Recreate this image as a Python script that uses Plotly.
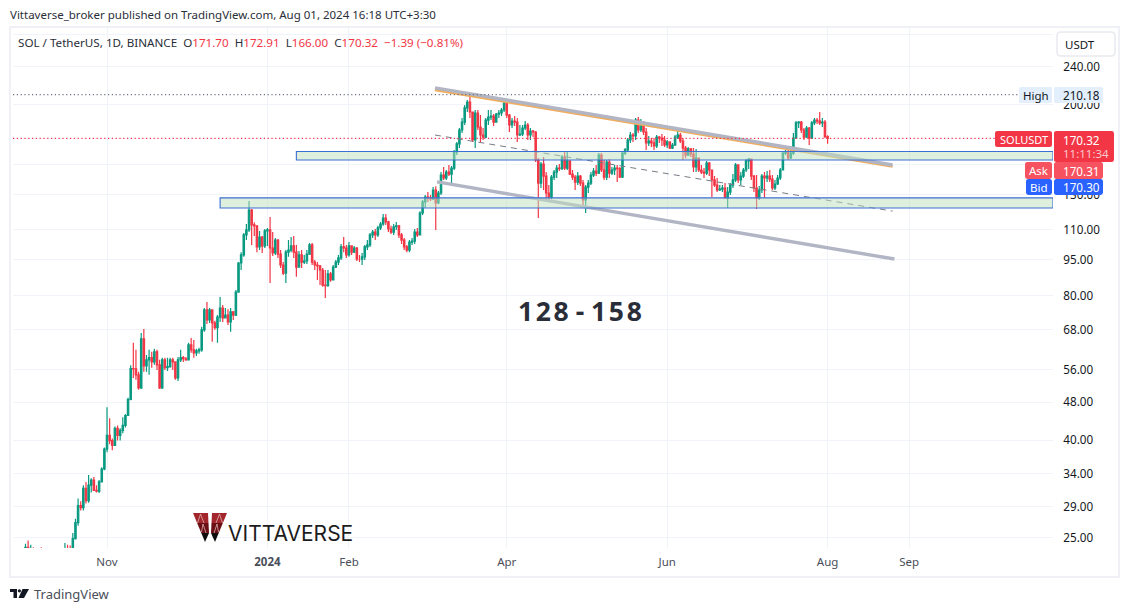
import pandas as pd
import plotly.graph_objects as go

closes = [
 23.9,23.4,23.6,23.1,22.5,23.3,23.2,23.3,21.8,22.0,
 21.6,21.2,21.4,21.6,22.0,23.6,23.5,23.4,24.9,26.9,
 29.2,28.9,31.7,29.9,32.2,33.0,31.4,31.3,32.7,34.8,
 38.3,40.9,39.9,39.0,42.3,40.9,41.9,42.9,45.0,48.6,
 56.4,
 56.3,54.7,51.4,65.0,57.1,58.8,59.4,58.2,61.1,57.4,
 51.4,58.8,56.6,56.9,58.8,58.2,53.9,58.8,59.4,59.1,
 58.8,63.2,61.7,60.8,61.4,61.7,67.9,74.7,71.2,74.7,
 70.2,68.6,72.2,75.4,71.9,72.9,70.5,74.0,72.9,81.4,
 93.6,97.3,107.1,109.7,120.7,112.4,111.9,101.1,106.0,101.6,
 109.2,109.7,100.6,98.2,104.5,97.7,92.7,89.2,98.6,99.6,
 101.6,98.6,91.8,97.3,94.0,94.5,97.7,102.1,94.0,92.7,
 92.3,90.5,84.2,84.0,88.8,86.3,91.8,94.0,95.9,101.1,
 100.6,97.3,101.6,98.6,100.6,95.4,95.4,96.4,101.1,102.1,
 107.1,108.6,107.1,110.8,112.9,116.2,114.0,110.2,108.6,111.4,
 111.9,107.1,104.5,101.1,99.6,103.5,104.0,108.6,107.1,119.0,
 125.5,128.5,128.0,127.3,132.9,124.9,131.0,142.8,140.8,144.9,
 143.5,147.7,159.5,165.8,177.3,184.2,197.1,202.8,193.3,169.0,
 192.4,179.9,173.1,171.4,186.0,188.7,189.6,184.2,191.4,192.4,
 195.2,201.8,190.5,181.6,185.1,184.2,173.1,173.9,179.0,181.6,
 173.1,176.4,175.6,153.5,137.4,150.6,142.1,131.0,128.5,141.4,
 144.9,147.7,147.3,155.7,147.7,152.8,143.5,141.4,138.1,142.1,
 137.4,126.7,134.8,137.4,142.8,145.6,144.2,157.2,146.3,141.4,
 152.0,144.2,146.3,147.7,147.3,141.4,158.7,161.1,169.0,173.1,
 172.3,186.0,177.3,184.2,175.6,166.6,168.2,166.6,164.2,171.4,
 170.6,169.0,165.0,167.4,162.6,165.0,171.4,173.1,168.2,162.6,
 157.2,161.9,158.0,148.5,155.0,146.3,144.9,144.2,151.3,146.3,
 139.5,136.1,132.9,133.5,134.2,128.0,131.6,136.1,139.5,149.9,
 139.5,142.1,146.3,152.8,154.2,142.1,134.2,128.0,132.9,142.1,
 140.8,142.1,140.1,134.2,136.8,140.8,146.3,158.7,159.5,155.0,
 158.7,170.6,183.4,184.2,177.3,171.4,179.0,170.6,183.4,186.0,
 185.1,183.4,184.2,171.7,170.32,
]
highs = [
 24.3,24.7,24.2,23.9,23.4,23.6,23.9,23.6,23.3,22.4,
 22.3,21.7,21.9,21.9,22.2,24.4,24.2,24.1,25.6,27.4,
 30.2,29.8,32.2,32.7,33.8,33.3,33.5,32.2,33.0,35.1,
 38.6,46.8,44.4,40.3,42.7,42.9,42.3,44.6,45.3,49.0,
 57.3,
 63.8,61.7,55.5,66.9,68.2,60.2,61.7,61.1,62.0,61.7,
 58.8,59.4,59.4,59.4,59.4,59.4,58.2,59.6,61.7,59.9,
 59.6,63.8,65.3,64.7,62.0,62.3,68.9,75.4,77.6,75.4,
 75.0,70.9,72.9,79.5,76.5,75.4,75.0,75.4,74.3,82.2,
 94.1,98.6,108.1,112.9,126.1,121.3,113.8,110.8,109.2,106.6,
 110.2,110.8,116.8,108.6,105.5,105.0,99.6,94.1,99.6,104.5,
 106.0,106.6,102.1,99.1,99.6,97.3,99.6,103.0,103.0,95.0,
 94.0,92.7,91.4,90.5,90.5,89.6,92.7,95.0,97.3,102.5,
 106.0,102.1,103.5,101.6,101.6,101.1,97.3,98.2,102.1,104.5,
 108.1,109.7,110.2,111.9,114.0,118.4,118.4,114.6,111.9,112.9,
 114.0,112.4,108.1,105.5,102.1,104.5,105.5,110.2,110.8,120.0,
 126.7,129.8,131.6,129.8,134.8,135.4,132.3,144.9,148.5,146.3,
 149.9,149.2,161.1,167.4,179.0,187.8,199.9,204.8,210.18,193.3,
 195.2,195.2,190.5,179.0,187.8,195.2,195.2,191.4,192.4,195.2,
 197.0,203.8,204.8,191.4,187.8,189.6,187.8,181.6,181.6,185.1,
 183.4,179.0,177.3,176.4,155.0,152.0,155.7,144.9,136.1,142.8,
 146.3,149.9,150.6,157.2,159.5,159.5,149.2,146.3,142.8,144.9,
 142.8,139.5,136.1,139.5,144.9,147.7,149.9,158.7,158.7,153.5,
 153.5,154.2,148.5,149.9,149.9,148.5,160.3,162.6,170.6,175.6,
 174.8,187.8,188.7,186.9,184.2,179.0,172.3,170.6,170.6,173.1,
 172.3,173.9,172.3,169.0,167.4,166.6,173.1,177.3,174.8,170.6,
 164.2,163.4,162.6,162.6,161.9,155.0,149.9,147.7,152.8,152.0,
 144.9,142.1,140.8,136.1,136.1,137.4,134.8,137.4,143.5,151.3,
 149.9,144.9,147.7,154.2,155.0,154.2,142.8,142.8,135.5,143.5,
 144.9,145.6,146.3,142.8,139.5,142.8,147.7,159.5,161.1,164.2,
 164.2,174.8,185.1,185.1,185.1,179.0,180.7,179.9,185.1,187.8,
 187.8,193.3,187.8,186.0,172.91,
]
lows = [
 21.5,23.1,23.1,22.9,22.3,22.3,23.1,22.9,21.3,21.3,
 21.3,20.7,21.0,21.3,21.5,22.0,23.3,23.2,23.3,24.8,
 26.5,28.5,28.5,29.5,29.6,31.1,31.3,31.1,31.0,32.7,
 34.6,37.7,39.2,38.1,39.4,39.9,39.9,41.3,42.5,45.0,
 48.4,
 53.9,53.4,50.9,51.1,55.5,55.5,54.7,56.6,57.4,56.0,
 51.1,51.1,56.0,55.7,56.6,56.0,53.4,53.1,58.2,58.2,
 58.5,58.8,60.8,59.4,59.9,60.5,61.1,67.3,69.8,70.2,
 64.1,67.9,63.8,70.5,70.5,71.9,69.5,67.3,71.2,72.6,
 81.8,90.5,96.4,104.5,108.6,102.1,106.6,98.6,99.6,98.2,
 100.6,101.6,85.0,96.8,97.3,95.9,91.4,88.4,85.0,96.4,
 98.6,95.9,87.6,91.8,91.4,93.2,93.2,97.3,92.7,90.5,
 86.3,84.2,83.5,79.1,83.5,85.5,86.3,91.4,92.7,95.0,
 98.6,95.9,96.4,97.3,98.2,94.5,94.0,92.7,95.0,99.6,
 101.1,105.5,104.5,106.0,109.7,111.9,112.4,108.6,107.6,107.1,
 109.7,105.5,102.5,99.6,98.6,98.6,102.1,102.5,106.0,107.1,
 117.9,121.9,125.5,126.1,126.7,109.7,124.3,129.8,139.5,139.5,
 142.1,137.4,146.3,157.2,162.6,174.8,181.6,193.3,187.8,167.4,
 162.6,177.3,167.4,169.0,170.6,181.6,186.0,180.7,184.2,187.8,
 189.6,193.3,187.8,175.6,179.0,180.7,167.4,172.3,172.3,177.3,
 169.0,169.0,171.4,152.0,116.2,134.2,132.9,126.7,126.7,127.3,
 139.5,140.8,145.6,146.3,146.3,146.3,142.8,139.5,132.9,136.1,
 135.5,121.9,119.0,131.0,136.1,141.4,142.1,143.5,144.9,139.5,
 139.5,140.8,142.8,142.8,138.1,140.8,140.8,157.2,159.5,166.6,
 167.4,169.0,174.8,175.6,173.1,161.1,164.2,163.4,161.1,162.6,
 166.6,164.2,163.4,162.6,161.9,161.9,164.2,169.8,166.6,153.5,
 154.9,156.5,155.7,144.9,144.9,144.9,143.5,140.8,142.8,142.1,
 128.5,134.8,131.6,132.3,131.6,127.6,121.9,129.8,134.2,138.1,
 137.4,136.1,140.8,144.9,147.0,139.5,131.6,121.3,126.7,131.0,
 128.0,138.1,138.1,132.9,132.9,136.1,139.5,146.3,157.2,153.5,
 154.2,157.2,170.6,179.0,174.8,169.0,170.6,165.0,171.4,181.6,
 182.5,181.6,179.9,170.6,166.00,
]
first_open = 21.6
y_ticks = [25, 29, 34, 40, 48, 56, 68, 80, 95, 110, 130, 150, 170, 200, 240, 280]
y_labels = ["25.00", "29.00", "34.00", "40.00", "48.00", "56.00", "68.00", "80.00", "95.00",
            "110.00", "130.00", "", "", "200.00", "240.00", ""]
x_ticks = ["2023-11-01", "2024-01-01", "2024-02-01", "2024-04-01", "2024-06-01", "2024-08-01", "2024-09-01"]
x_labels = ["Nov", "<b>2024</b>", "Feb", "Apr", "Jun", "Aug", "Sep"]
zones = [("2024-01-12", 159.9, 153.5), ("2023-12-14", 128.0, 121.9)]
line_top = (["2024-03-04 17:00", "2024-08-25 17:00"], [217.0, 149.9])
line_orange = (["2024-03-04 17:00", "2024-08-25 17:00"], [214.9, 148.8])
line_mid = (["2024-03-04 17:00", "2024-08-25 17:00"], [173.1, 120.1])
line_low = (["2024-03-05 12:00", "2024-08-26 10:00"], [138.2, 95.4])
high_price = 210.18
last_price = 170.32

X_RANGE = ["2023-09-26 06:00", "2024-10-25 17:00"]
Y_RANGE = [1.3768, 2.4615]
GREEN, RED, BLUE = "#089981", "#f23645", "#2962ff"
FONT = "Noto Sans"

L, R, T, B = 13, 1053, 28, 548
def px(x): return (x - L) / (R - L)
def py(y): return (B - y) / (B - T)

dates = pd.date_range("2023-10-01", periods=len(closes))
opens = [first_open] + closes[:-1]

fig = go.Figure()
fig.add_trace(go.Candlestick(
    x=dates, open=opens, high=highs, low=lows, close=closes, whiskerwidth=0,
    increasing=dict(line=dict(color=GREEN, width=1.2), fillcolor=GREEN),
    decreasing=dict(line=dict(color=RED, width=1.2), fillcolor=RED),
))
for xs, ys, color, width, dash in [
    (*line_orange, "#f0ad5c", 2.5, None),
    (*line_top, "#b2b5c4", 3.4, None),
    (*line_low, "#b2b5c4", 3.4, None),
    (*line_mid, "#787b86", 1, "6px,5px"),
]:
    fig.add_trace(go.Scatter(x=xs, y=ys, mode="lines", hoverinfo="skip",
                             line=dict(color=color, width=width, dash=dash)))

shapes = []
def rect(x0, y0, x1, y1, fill, line=None, lw=0):
    shapes.append(dict(type="rect", xref="paper", yref="paper", layer="above",
                       x0=px(x0), x1=px(x1), y0=py(y0), y1=py(y1), fillcolor=fill,
                       line=dict(color=line or fill, width=lw)))
def path(d, fill, lw=0, line=None):
    shapes.append(dict(type="path", xref="paper", yref="paper", layer="above", path=d,
                       fillcolor=fill, line=dict(color=line or fill, width=lw)))
def poly(pts, fill):
    path("M " + " L ".join(f"{px(a):.5f},{py(b):.5f}" for a, b in pts) + " Z", fill)
def rrect(x0, y0, x1, y1, fill, r=2.5, line=None, lw=0):
    def p(a, b): return f"{px(a):.5f},{py(b):.5f}"
    d = (f"M {p(x0 + r, y0)} L {p(x1 - r, y0)} Q {p(x1, y0)} {p(x1, y0 + r)} "
         f"L {p(x1, y1 - r)} Q {p(x1, y1)} {p(x1 - r, y1)} "
         f"L {p(x0 + r, y1)} Q {p(x0, y1)} {p(x0, y1 - r)} "
         f"L {p(x0, y0 + r)} Q {p(x0, y0)} {p(x0 + r, y0)} Z")
    path(d, fill, lw, line)

for lvl, col in [(high_price, "#6f7280"), (last_price, "#f7304a")]:
    shapes.append(dict(type="line", xref="paper", yref="y", x0=0, x1=1, y0=lvl, y1=lvl,
                       layer="above", line=dict(color=col, width=1.2, dash="1.2px,2.6px")))
for start, hi, lo in zones:
    shapes.append(dict(type="rect", xref="x", yref="y", x0=start, x1=X_RANGE[1], y0=lo, y1=hi,
                       layer="above", fillcolor="rgba(190,224,190,0.5)",
                       line=dict(color="#3b6fd4", width=1.1)))

rect(10, 27, 1119, 577, "rgba(0,0,0,0)", "#eff1f6", 2)
rrect(1057, 32, 1115, 56, "#ffffff", 4, "#e8eaf0", 1.5)
rrect(1019, 87, 1052, 103, "#e3effd", 1.5)
rrect(1054, 87, 1103, 103, "#e3effd", 1.5)
rrect(995, 131, 1052, 147, RED)
rrect(1054, 131, 1114, 162, RED)
rrect(1025, 162, 1052, 179, "#f7525f")
rrect(1054, 162, 1103, 179, "#f7525f")
rrect(1026, 179, 1052, 195, BLUE)
rrect(1054, 179, 1103, 195, BLUE)

# logo: two arms of three colour bands, mirrored about x = 210
for sign in (1, -1):
    m = lambda a: 210 + sign * (a - 210)
    poly([(m(193), 513), (m(208), 513), (m(208.5), 523), (m(197.1), 523)], "#a3262c")
    poly([(m(197.1), 523), (m(208.5), 523), (m(209), 533), (m(201.3), 533)], "#6a1015")
    poly([(m(201.3), 533), (m(209), 533), (m(205), 542)], "#0e0e0e")
    for a, b in [((200.5, 514), (204, 523)), ((200.5, 514), (197.5, 523)),
                 ((203, 524), (206, 533)), ((203, 524), (201.5, 532))]:
        shapes.append(dict(type="line", xref="paper", yref="paper", layer="above",
                           x0=px(m(a[0])), y0=py(a[1]), x1=px(m(b[0])), y1=py(b[1]),
                           line=dict(color="#e8c4c6", width=0.7)))

poly([(10, 589), (17, 589), (17, 598), (13.5, 598), (13.5, 592), (10, 592)], "#131722")
poly([(22.5, 589), (29, 589), (24, 598), (18.5, 598)], "#131722")
shapes.append(dict(type="circle", xref="paper", yref="paper", layer="above",
                   x0=px(17.8), x1=px(21), y0=py(592.4), y1=py(589.2),
                   fillcolor="#131722", line=dict(width=0)))

ann = []
def text(x, y, s, size=11.5, color="#131722", anchor="left", family=FONT):
    ann.append(dict(x=px(x), y=py(y), xref="paper", yref="paper", text=s, showarrow=False,
                    xanchor=anchor, yanchor="middle", borderpad=0,
                    font=dict(size=size, color=color, family=family)))

def red(s): return f'<span style="color:{RED}">{s}</span>'
text(9, 14.5, "Vittaverse_broker published on TradingView.com, Aug 01, 2024 16:18 UTC+3:30", 11.5, "#2a2e39")
text(17, 42, "SOL / TetherUS, 1D, BINANCE&nbsp;&nbsp;O" + red("171.70") + "&nbsp;&nbsp;H" + red("172.91")
     + "&nbsp;&nbsp;L" + red("166.00") + "&nbsp;&nbsp;C" + red("170.32") + "&nbsp;&nbsp;" + red("−1.39 (−0.81%)"), 11.63, "#2a2e39")
text(1080, 44, "USDT", 11.5, anchor="center")
text(1035.5, 95, "High", 11.5, anchor="center")
text(1062, 95, "210.18", 11.7)
text(1023.5, 139, "SOLUSDT", 11, "#ffffff", anchor="center")
text(1062, 139.5, "170.32", 11.7, "#ffffff")
text(1062, 153.5, "11:11:34", 11.5, "#fbc9cd")
text(1038.5, 170.5, "Ask", 11.5, "#ffffff", anchor="center")
text(1062, 170.5, "170.31", 11.7, "#ffffff")
text(1039, 187, "Bid", 11.5, "#ffffff", anchor="center")
text(1062, 187, "170.30", 11.7, "#ffffff")
text(580, 311, "<b>1\u200a2\u200a8 - 1\u200a5\u200a8</b>", 26.5, "#2a2e39", anchor="center")
text(227, 533, "VITTAVERSE", 21, "#1c1c1c", family="Inter")
text(32.5, 594, "TradingView", 13, "#4a4e59")

fig.update_layout(
    width=1129, height=612, autosize=False,
    margin=dict(l=L, r=1129 - R, t=T, b=612 - B, pad=0),
    paper_bgcolor="#ffffff", plot_bgcolor="#ffffff",
    showlegend=False, hovermode=False, shapes=shapes, annotations=ann,
    font=dict(family=FONT, size=11.5, color="#131722"),
    xaxis=dict(type="date", range=X_RANGE, rangeslider=dict(visible=False),
               tickmode="array", tickvals=x_ticks, ticktext=x_labels, tickangle=0,
               showgrid=True, gridcolor="#f0f3fa", gridwidth=1, zeroline=False, showline=False,
               ticks="outside", ticklen=3, tickcolor="#ffffff",
               tickfont=dict(size=11.5, color="#4a4e59", family=FONT)),
    yaxis=dict(type="log", side="right", range=Y_RANGE, tickmode="array",
               tickvals=y_ticks, ticktext=y_labels,
               showgrid=True, gridcolor="#f0f3fa", gridwidth=1, zeroline=False, showline=False,
               ticks="outside", ticklen=7, tickcolor="#ffffff",
               tickfont=dict(size=11.7, color="#131722", family=FONT)),
    boxgap=0.25,
)

fig.write_html("out.html", config=dict(displayModeBar=False, staticPlot=True),
               post_script="document.body.style.margin='0';document.body.style.overflow='hidden';")
